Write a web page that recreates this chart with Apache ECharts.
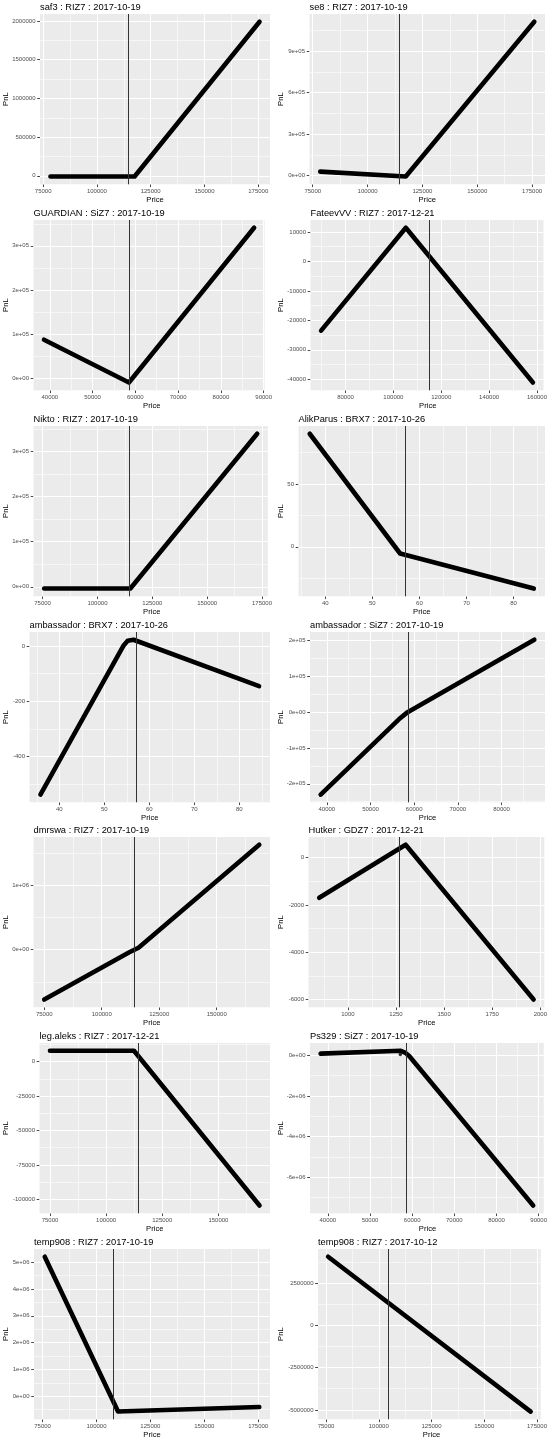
<!DOCTYPE html>
<html><head><meta charset="utf-8">
<script src="https://cdn.jsdelivr.net/npm/echarts@6/dist/echarts.min.js"></script>
<style>
html,body{margin:0;padding:0;background:#fff;}
#wrap{position:relative;width:550px;height:1441px;overflow:hidden;background:#fff;}
.pan{position:absolute;width:275px;height:206px;overflow:hidden;}
</style></head><body><div id="wrap"></div>
<script>
// ---------------- data ----------------
const titles = [
  'saf3 : RIZ7 : 2017-10-19', 'se8 : RIZ7 : 2017-10-19',
  'GUARDIAN : SiZ7 : 2017-10-19', 'FateevVV : RIZ7 : 2017-12-21',
  'Nikto : RIZ7 : 2017-10-19', 'AlikParus : BRX7 : 2017-10-26',
  'ambassador : BRX7 : 2017-10-26', 'ambassador : SiZ7 : 2017-10-19',
  'dmrswa : RIZ7 : 2017-10-19', 'Hutker : GDZ7 : 2017-12-21',
  'leg.aleks : RIZ7 : 2017-12-21', 'Ps329 : SiZ7 : 2017-10-19',
  'temp908 : RIZ7 : 2017-10-19', 'temp908 : RIZ7 : 2017-10-12'
];
const currentPrice = [114500, 114400, 58500, 114800, 114600, 57.0, 57.1, 58600, 114300, 1267, 114300, 58500, 108000, 104600];

const saf3Price = [78400, 117500, 175600];
const saf3PnL   = [-10000, -10000, 1991000];
const se8Price  = [78400, 117400, 176000];
const se8PnL    = [29000, -7000, 1113000];
const guardianPrice = [38640, 58500, 87770];
const guardianPnL   = [87000, -10000, 341000];
const fateevPrice = [69800, 105200, 158300];
const fateevPnL   = [-23500, 11400, -41100];
const niktoPrice = [75700, 115000, 172800];
const niktoPnL   = [-4000, -4000, 339000];
const alikPrice = [36.7, 55.9, 84.3];
const alikPnL   = [90, -5.3, -33.2];
const ambBrPrice = [35.8, 54.2, 55.2, 56.5, 84.4];
const ambBrPnL   = [-538, 0, 19, 23, -145];
const ambSiPrice = [38600, 56500, 58500, 87500];
const ambSiPnL   = [-230000, -20000, 0, 202000];
const dmrswaPrice = [75000, 112000, 116000, 168500];
const dmrswaPnL   = [-776000, -40000, 30000, 1630000];
const hutkerPrice = [851, 1300, 1965];
const hutkerPnL   = [-1700, 540, -6000];
const legPrice = [75000, 112400, 168300];
const legPnL   = [7800, 7800, -104400];
const psPrice = [38300, 57300, 58300, 59300, 88700];
const psPnL   = [80000, 220000, 130000, -40000, -7390000];
const psStrayPrice = [57200];
const psStrayPnL   = [30000];
const temp19Price = [76000, 110000, 175500];
const temp19PnL   = [5200000, -570000, -400000];
const temp12Price = [76000, 172000];
const temp12PnL   = [4060000, -5100000];

// tick values / labels
const xTicksRIZ = [75000, 100000, 125000, 150000, 175000];
const xTicksSiZ = [40000, 50000, 60000, 70000, 80000, 90000];
const xTicksFateev = [80000, 100000, 120000, 140000, 160000];
const xTicksBRX = [40, 50, 60, 70, 80];
const xTicksGDZ = [1000, 1250, 1500, 1750, 2000];

const yTicksSaf3 = [0, 500000, 1000000, 1500000, 2000000];
const yTicksSe8 = [0, 300000, 600000, 900000];
const yLabelsSe8 = ['0e+00', '3e+05', '6e+05', '9e+05'];
const yTicks1e5 = [0, 100000, 200000, 300000];
const yLabels1e5 = ['0e+00', '1e+05', '2e+05', '3e+05'];
const yTicksFateev = [-40000, -30000, -20000, -10000, 0, 10000];
const yTicksAlik = [0, 50];
const yTicksAmbBr = [-400, -200, 0];
const yTicksAmbSi = [-200000, -100000, 0, 100000, 200000];
const yLabelsAmbSi = ['-2e+05', '-1e+05', '0e+00', '1e+05', '2e+05'];
const yTicksDmrswa = [0, 1000000];
const yLabelsDmrswa = ['0e+00', '1e+06'];
const yTicksHutker = [-6000, -4000, -2000, 0];
const yTicksLeg = [-100000, -75000, -50000, -25000, 0];
const yTicksPs = [-6000000, -4000000, -2000000, 0];
const yLabelsPs = ['-6e+06', '-4e+06', '-2e+06', '0e+00'];
const yTicksTemp19 = [0, 1000000, 2000000, 3000000, 4000000, 5000000];
const yLabelsTemp19 = ['0e+00', '1e+06', '2e+06', '3e+06', '4e+06', '5e+06'];
const yTicksTemp12 = [-5000000, -2500000, 0, 2500000];

// ---------------- panels (built from the arrays above) ----------------
const panels = [
  {x: saf3Price, y: saf3PnL, xt: xTicksRIZ, yt: yTicksSaf3, left: 40},
  {x: se8Price, y: se8PnL, xt: xTicksRIZ, yt: yTicksSe8, yl: yLabelsSe8, left: 34.5},
  {x: guardianPrice, y: guardianPnL, xt: xTicksSiZ, yt: yTicks1e5, yl: yLabels1e5, left: 33.5},
  {x: fateevPrice, y: fateevPnL, xt: xTicksFateev, yt: yTicksFateev, left: 35.5},
  {x: niktoPrice, y: niktoPnL, xt: xTicksRIZ, yt: yTicks1e5, yl: yLabels1e5, left: 33.5},
  {x: alikPrice, y: alikPnL, xt: xTicksBRX, yt: yTicksAlik, left: 23.5},
  {x: ambBrPrice, y: ambBrPnL, xt: xTicksBRX, yt: yTicksAmbBr, left: 29.5},
  {x: ambSiPrice, y: ambSiPnL, xt: xTicksSiZ, yt: yTicksAmbSi, yl: yLabelsAmbSi, left: 35},
  {x: dmrswaPrice, y: dmrswaPnL, xt: xTicksRIZ, yt: yTicksDmrswa, yl: yLabelsDmrswa, left: 33.5},
  {x: hutkerPrice, y: hutkerPnL, xt: xTicksGDZ, yt: yTicksHutker, left: 33.5},
  {x: legPrice, y: legPnL, xt: xTicksRIZ, yt: yTicksLeg, left: 39.5},
  {x: psPrice, y: psPnL, xt: xTicksSiZ, yt: yTicksPs, yl: yLabelsPs, left: 35, sx: psStrayPrice, sy: psStrayPnL},
  {x: temp19Price, y: temp19PnL, xt: xTicksRIZ, yt: yTicksTemp19, yl: yLabelsTemp19, left: 34},
  {x: temp12Price, y: temp12PnL, xt: xTicksRIZ, yt: yTicksTemp12, left: 43}
];

const FONT = 'Liberation Sans, Arial, Helvetica, sans-serif';
const PW = 275, PH = 206, TOP = 14, BOTTOM = 184.3, RIGHT = 270;

function expand(vals, extra) {
  let lo = Math.min.apply(null, vals), hi = Math.max.apply(null, vals);
  if (extra !== undefined) { lo = Math.min(lo, extra); hi = Math.max(hi, extra); }
  const d = (hi - lo) * 0.05;
  return [lo - d, hi + d];
}
function minorsOf(ticks, lo, hi) {
  const s = ticks[1] - ticks[0];
  let v = ticks[0] - s / 2;
  while (v - s >= lo) v -= s;
  const out = [];
  for (; v <= hi; v += s) if (v >= lo) out.push(v);
  return out;
}
function fmt(ticks, labels) {
  return function (v) {
    for (let i = 0; i < ticks.length; i++) {
      if (Math.abs(ticks[i] - v) < 1e-6 * Math.max(1, Math.abs(v))) return labels ? labels[i] : String(ticks[i]);
    }
    return String(v);
  };
}

const wrap = document.getElementById('wrap');
panels.forEach(function (p, i) {
  const col = i % 2, row = Math.floor(i / 2);
  const div = document.createElement('div');
  div.className = 'pan';
  div.style.left = (col * PW) + 'px';
  div.style.top = Math.round(row * 1441 / 7) + 'px';
  wrap.appendChild(div);
  const chart = echarts.init(div, null, {renderer: 'canvas', width: PW, height: PH});

  const xr = expand(p.x, currentPrice[i]);
  const yr = expand(p.y);
  const xm = minorsOf(p.xt, xr[0], xr[1]);
  const ym = minorsOf(p.yt, yr[0], yr[1]);

  const axis = function (ticks, labels, r) {
    return {
      type: 'value', min: r[0], max: r[1],
      axisLine: {show: false, onZero: false},
      axisTick: {show: true, customValues: ticks, length: 2.8, lineStyle: {color: '#333333', width: 0.9}},
      axisLabel: {customValues: ticks, formatter: fmt(ticks, labels), fontSize: 6, color: '#4D4D4D',
                  fontFamily: FONT, margin: 4.5, hideOverlap: false},
      splitLine: {show: false}
    };
  };

  // background grid lines (white), placed through the axis scales
  const gridLines = [];
  xm.forEach(function (v) { gridLines.push({xAxis: v, lineStyle: {width: 0.55}}); });
  ym.forEach(function (v) { gridLines.push({yAxis: v, lineStyle: {width: 0.55}}); });
  p.xt.forEach(function (v) { if (v >= xr[0] && v <= xr[1]) gridLines.push({xAxis: v, lineStyle: {width: 1.1}}); });
  p.yt.forEach(function (v) { if (v >= yr[0] && v <= yr[1]) gridLines.push({yAxis: v, lineStyle: {width: 1.1}}); });

  const pts = p.x.map(function (v, k) { return [v, p.y[k]]; });
  const plotCx = (p.left + RIGHT) / 2;
  const plotCy = (TOP + BOTTOM) / 2;

  const series = [{
    type: 'line', data: pts, showSymbol: false, symbol: 'none', silent: true, z: 1,
    lineStyle: {width: 0, opacity: 0},
    markLine: {
      z: 1, symbol: 'none', silent: true, animation: false, label: {show: false},
      lineStyle: {color: '#FFFFFF', type: 'solid'},
      data: gridLines
    }
  }, {
    type: 'line', data: pts, showSymbol: false, symbol: 'none', silent: true, z: 3,
    lineStyle: {color: '#000000', width: 4.6, cap: 'round', join: 'round'},
    markLine: {
      z: 4, symbol: 'none', silent: true, animation: false, label: {show: false},
      lineStyle: {color: '#333333', width: 1, type: 'solid'},
      data: [{xAxis: currentPrice[i]}]
    }
  }];
  if (p.sx) {
    series.push({
      type: 'scatter', silent: true, z: 3, symbolSize: 3.5,
      itemStyle: {color: '#000000'},
      data: p.sx.map(function (v, k) { return [v, p.sy[k]]; })
    });
  }

  chart.setOption({
    animation: false,
    backgroundColor: '#FFFFFF',
    title: {
      text: titles[i], left: p.left, top: 2.5, padding: 0,
      textStyle: {fontSize: 9.3, fontWeight: 'normal', color: '#000000', fontFamily: FONT}
    },
    grid: {
      left: p.left, right: PW - RIGHT, top: TOP, bottom: PH - BOTTOM,
      show: true, backgroundColor: '#EBEBEB', borderWidth: 0
    },
    xAxis: axis(p.xt, null, xr),
    yAxis: axis(p.yt, p.yl, yr),
    graphic: [
      {type: 'text', x: plotCx, y: 200, silent: true,
       style: {text: 'Price', fontSize: 7.6, fill: '#000000', fontFamily: FONT, textAlign: 'center', textVerticalAlign: 'middle'}},
      {type: 'text', x: 6.3, y: plotCy, rotation: Math.PI / 2, silent: true,
       style: {text: 'PnL', fontSize: 7.6, fill: '#000000', fontFamily: FONT, textAlign: 'center', textVerticalAlign: 'middle'}}
    ],
    series: series
  });
});
</script>
</body></html>
